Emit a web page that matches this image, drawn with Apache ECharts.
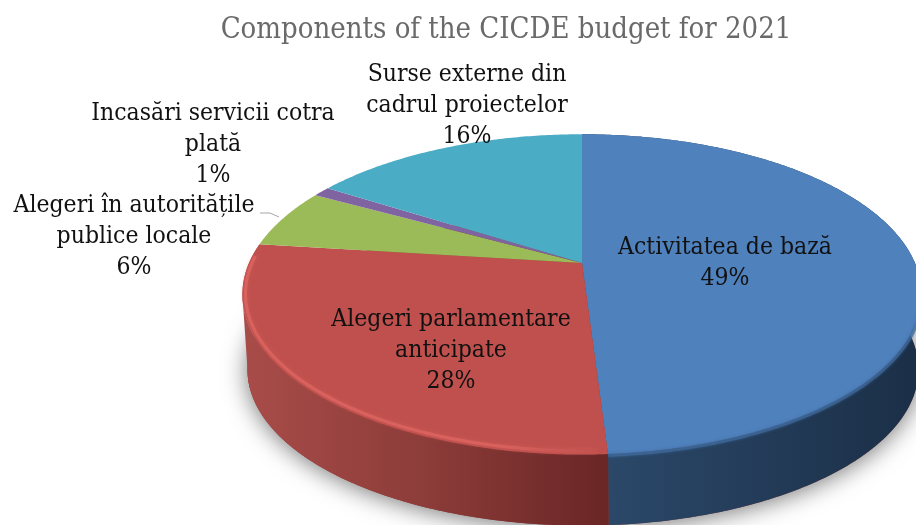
<!DOCTYPE html>
<html>
<head>
<meta charset="utf-8">
<style>
  html, body { margin: 0; padding: 0; background: #fff; }
  #main { width: 916px; height: 525px; }
</style>
<script src="https://cdn.jsdelivr.net/npm/echarts@6/dist/echarts.min.js"></script>
</head>
<body>
<div id="main"></div>
<script>
const categories = ['Activitatea de bază', 'Alegeri parlamentare\nanticipate', 'Alegeri în autoritățile\npublice locale', 'Incasări servicii cotra\nplată', 'Surse externe din\ncadrul proiectelor']
const values = [49, 28, 6, 1, 16]
const colors = ['#4f81bd', '#c0504d', '#9bbb59', '#8064a2', '#4bacc6']

// label centres, same order as categories
const labelX = [725, 451, 134, 213, 467]
const labelY = [263, 351, 237, 145, 106]

const total = values.reduce((a, b) => a + b, 0)
const starts = values.map((v, i) => values.slice(0, i).reduce((a, b) => a + b, 0))

// perspective of the pie: k makes the far side smaller
const k = 0.196
const topPlane = { x: 582, y: 263, a: 333, b: 154 }
const basePlane = { x: 583, y: 339, a: 329, b: 150 }

function project (plane, t) {
  const w = 1 + k * Math.cos(t)
  return [plane.x + plane.a * Math.sin(t) / w, plane.y - plane.b * Math.cos(t) / w]
}

function arc (plane, from, to) {
  const pts = []
  const n = Math.max(2, Math.ceil(Math.abs(to - from) * 90))
  for (let i = 0; i <= n; i++) pts.push(project(plane, from + (to - from) * i / n))
  return pts
}

function sliceAngles (i, value) {
  const from = starts[i] / total * Math.PI * 2
  return [from, from + value / total * Math.PI * 2]
}

const wallFill = [
  { type: 'linear', x: 610, y: 0, x2: 916, y2: 0, global: true, colorStops: [{ offset: 0, color: '#2b4869' }, { offset: 1, color: '#1b2f47' }] },
  { type: 'linear', x: 245, y: 0, x2: 608, y2: 0, global: true, colorStops: [{ offset: 0, color: '#a84c49' }, { offset: 0.5, color: '#8c3c39' }, { offset: 1, color: '#692625' }] }
]
const rimFill = { type: 'linear', x: 245, y: 0, x2: 605, y2: 0, global: true, colorStops: [{ offset: 0, color: '#dc6460' }, { offset: 0.7, color: '#dc6460' }, { offset: 1, color: '#c0504d' }] }

function renderWall (params, api) {
  const i = params.dataIndex
  const [from, to] = sliceAngles(i, api.value(0))
  const children = []
  if (i === 0) {
    children.push({
      type: 'polygon',
      shape: { points: arc(basePlane, 0, Math.PI * 2) },
      style: { fill: '#8c3c39', shadowBlur: 24, shadowColor: 'rgba(0,0,0,0.55)', shadowOffsetY: 2 }
    })
  }
  if (wallFill[i]) {
    const pts = arc(topPlane, from, to).concat(arc(basePlane, to, from))
    children.push({ type: 'polygon', shape: { points: pts }, style: { fill: wallFill[i] } })
    if (i === 1) {
      // silhouette runs straight between the two planes at the widest point
      const side = Math.PI * 2 - Math.acos(-k)
      const left = arc(topPlane, Math.PI * 1.2, side).concat(arc(basePlane, side, Math.PI * 1.2))
      children.push({ type: 'polygon', shape: { points: left }, style: { fill: wallFill[i] } })
    }
  }
  return { type: 'group', children }
}

function renderTop (params, api) {
  const i = params.dataIndex
  const [from, to] = sliceAngles(i, api.value(0))
  const pts = [[topPlane.x, topPlane.y]].concat(arc(topPlane, from, to))
  const children = [{ type: 'polygon', shape: { points: pts }, style: { fill: colors[i] } }]
  if (i === 1) {
    // bevel just inside the front edge
    const inner = { x: topPlane.x, y: topPlane.y, a: topPlane.a - 3, b: topPlane.b - 3 }
    children.push({
      type: 'polyline',
      shape: { points: arc(inner, from + 0.03, to - 0.08) },
      style: { fill: 'none', stroke: rimFill, lineWidth: 3, opacity: 0.85, shadowBlur: 4, shadowColor: 'rgba(220,100,96,0.6)' }
    })
  }
  if (i === 0) {
    // blue edge melts softly into the wall
    const outer = { x: topPlane.x, y: topPlane.y, a: topPlane.a + 1, b: topPlane.b + 1 }
    children.push({
      type: 'polyline',
      shape: { points: arc(outer, Math.PI * 0.6, to) },
      style: { fill: 'none', stroke: '#3f6a9b', lineWidth: 3, opacity: 0.7, shadowBlur: 3, shadowColor: '#3f6a9b' }
    })
  }
  return { type: 'group', children }
}

function renderLabel (params, api) {
  const i = params.dataIndex
  const children = [{
    type: 'text',
    style: {
      x: labelX[i],
      y: labelY[i],
      text: categories[i] + '\n' + api.value(0) + '%',
      align: 'center',
      verticalAlign: 'middle',
      lineHeight: 31,
      fontFamily: 'DejaVu Serif Condensed',
      fontSize: 24.5,
      fill: '#111'
    }
  }]
  if (i === 2) {
    children.push({
      type: 'polyline',
      shape: { points: [[260, 213], [270, 213], [279, 217]] },
      style: { fill: 'none', stroke: '#a6a6a6', lineWidth: 1 }
    })
  }
  return { type: 'group', children }
}

const seriesData = values.map(v => [v])

const chart = echarts.init(document.getElementById('main'))
chart.setOption({
  animation: false,
  title: {
    text: 'Components of the CICDE budget for 2021',
    left: 501,
    top: 11,
    textAlign: 'center',
    textStyle: { fontFamily: 'DejaVu Serif Condensed', fontSize: 29, fontWeight: 'normal', color: '#6a6a6a' }
  },
  series: [
    { type: 'custom', coordinateSystem: 'none', z: 1, silent: true, data: seriesData, renderItem: renderWall },
    { type: 'custom', coordinateSystem: 'none', z: 2, silent: true, data: seriesData, renderItem: renderTop },
    { type: 'custom', coordinateSystem: 'none', z: 3, silent: true, data: seriesData, renderItem: renderLabel }
  ]
})
</script>
</body>
</html>
